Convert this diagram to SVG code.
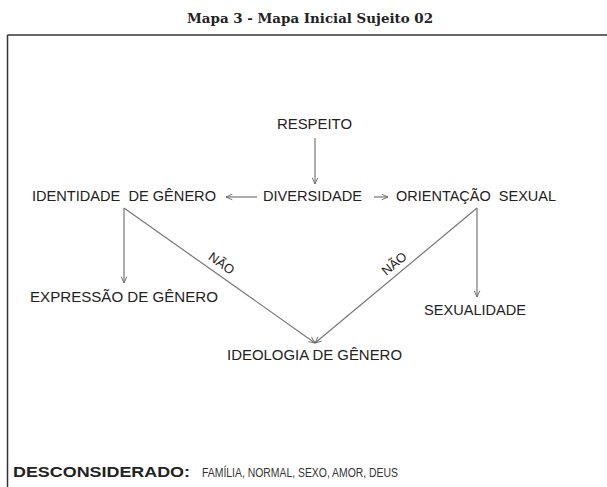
<svg xmlns="http://www.w3.org/2000/svg" width="607" height="487" viewBox="0 0 607 487">
<style>
.t{font-family:"Liberation Sans",Arial,sans-serif;font-size:15px;fill:#222;}
.s{font-family:"Liberation Sans",Arial,sans-serif;font-size:13px;fill:#222;}
.c{stroke:#777;stroke-width:1.2;fill:none;}
</style>
<defs>
<marker id="ah" viewBox="0 0 10 10" refX="10" refY="5" markerWidth="7" markerHeight="7" orient="auto" markerUnits="userSpaceOnUse">
<path d="M1,1 L10,5 L1,9" fill="none" stroke="#666" stroke-width="1.3"/>
</marker>
</defs>
<rect width="607" height="487" fill="#fff"/>
<text x="310" y="23" text-anchor="middle" font-family="DejaVu Serif,'Liberation Serif',serif" font-weight="bold" font-size="13" fill="#222" textLength="246" lengthAdjust="spacingAndGlyphs">Mapa 3 - Mapa Inicial Sujeito 02</text>
<g id="frame">
<line x1="7.5" y1="35" x2="607" y2="35" stroke="#333" stroke-width="1.5"/>
<line x1="7.5" y1="35" x2="7.5" y2="487" stroke="#333" stroke-width="1.5"/>
</g>
<g id="connectors">
<line class="c" x1="315" y1="138" x2="315" y2="184" marker-end="url(#ah)"/>
<line class="c" x1="257" y1="197" x2="226" y2="197" marker-end="url(#ah)"/>
<line class="c" x1="374" y1="197" x2="388" y2="197" marker-end="url(#ah)"/>
<line class="c" x1="124" y1="208" x2="124" y2="283" marker-end="url(#ah)"/>
<line class="c" x1="124" y1="208" x2="315" y2="343" marker-end="url(#ah)"/>
<line class="c" x1="477" y1="208" x2="477" y2="297" marker-end="url(#ah)"/>
<line class="c" x1="477" y1="208" x2="315" y2="343" marker-end="url(#ah)"/>
<text class="s" transform="translate(219,267) rotate(35.3)" text-anchor="middle">NÃO</text>
<text class="s" transform="translate(397,267) rotate(-39.8)" text-anchor="middle">NÃO</text>
</g>
<g id="respeito"><text class="t" x="277" y="129" textLength="75" lengthAdjust="spacingAndGlyphs">RESPEITO</text></g>
<g id="diversidade"><text class="t" x="263" y="201" textLength="99" lengthAdjust="spacingAndGlyphs">DIVERSIDADE</text></g>
<g id="identidade"><text class="t" x="32" y="201" textLength="184" lengthAdjust="spacingAndGlyphs" xml:space="preserve">IDENTIDADE  DE GÊNERO</text></g>
<g id="orientacao"><text class="t" x="396" y="201" textLength="160" lengthAdjust="spacingAndGlyphs" xml:space="preserve">ORIENTAÇÃO  SEXUAL</text></g>
<g id="expressao"><text class="t" x="30" y="302" textLength="188" lengthAdjust="spacingAndGlyphs">EXPRESSÃO DE GÊNERO</text></g>
<g id="sexualidade"><text class="t" x="424" y="315" textLength="102" lengthAdjust="spacingAndGlyphs">SEXUALIDADE</text></g>
<g id="ideologia"><text class="t" x="227" y="360" textLength="175" lengthAdjust="spacingAndGlyphs">IDEOLOGIA DE GÊNERO</text></g>
<g id="desconsiderado">
<text x="13" y="477" font-family="'Liberation Sans',Arial,sans-serif" font-weight="bold" font-size="15" fill="#222" textLength="177" lengthAdjust="spacingAndGlyphs">DESCONSIDERADO:</text>
<text x="202" y="477" font-family="'Liberation Sans',Arial,sans-serif" font-size="12.5" fill="#333" textLength="196" lengthAdjust="spacingAndGlyphs">FAMÍLIA, NORMAL, SEXO, AMOR, DEUS</text>
</g>
</svg>
